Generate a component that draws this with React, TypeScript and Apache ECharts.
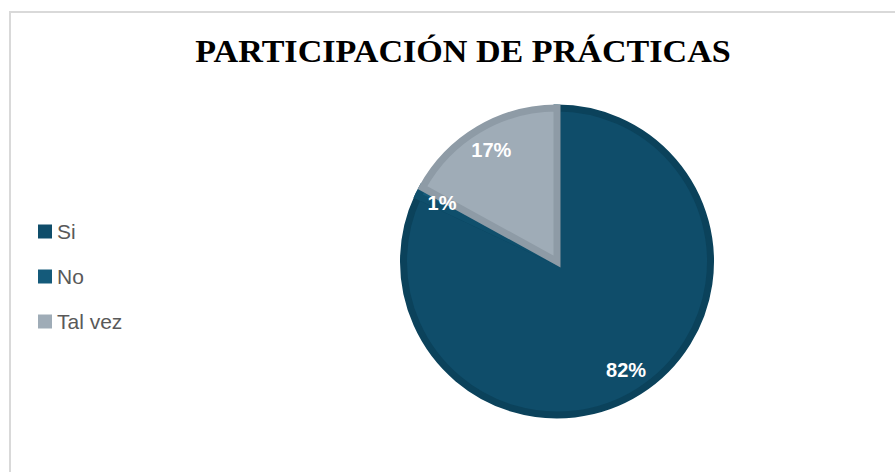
import React, { useEffect, useRef } from "react";
import * as echarts from "echarts";

const titleText = "PARTICIPACIÓN DE PRÁCTICAS";
const categories = ["Si", "No", "Tal vez"];
const percentages = [82, 1, 17];
const sliceColors = ["#0F4D6A", "#145A7A", "#9FACB7"];
const sliceBorders = ["#0B425B", "#0F4F6C", "#8E9BA6"];

export default function App() {
  const ref = useRef<HTMLDivElement>(null);
  useEffect(() => {
    if (!ref.current) return;
    const chart = echarts.init(ref.current, undefined, { renderer: "svg" });
    const data = categories.map((name, i) => ({
      name,
      value: percentages[i],
      itemStyle: { color: sliceColors[i], borderColor: sliceBorders[i] },
    }));
    const labelData = categories.map((name, i) => ({
      name,
      value: percentages[i],
    }));
    chart.setOption({
      animation: false,
      backgroundColor: "#ffffff",
      graphic: [
        {
          type: "rect",
          shape: { x: 10, y: 12, width: 920, height: 500 },
          style: { fill: "none", stroke: "#D9D9D9", lineWidth: 2 },
          silent: true,
          z: 0,
        },
        {
          type: "text",
          x: 463,
          y: 51,
          scaleX: 1.1,
          scaleY: 1.04,
          style: {
            text: titleText,
            font: 'bold 31px "Liberation Serif"',
            fill: "#000000",
            textAlign: "center",
            textVerticalAlign: "middle",
          },
          z: 10,
        },
      ],
      legend: {
        orient: "vertical",
        left: 38,
        top: 221,
        padding: 0,
        icon: "rect",
        itemWidth: 14,
        itemHeight: 14,
        itemGap: 24,
        data: categories,
        itemStyle: { borderWidth: 0 },
        textStyle: {
          fontFamily: "Liberation Sans",
          fontSize: 21,
          color: "#595959",
        },
      },
      series: [
        {
          type: "pie",
          center: [557, 261.5],
          radius: [0, 153.5],
          startAngle: 90,
          clockwise: true,
          data,
          itemStyle: { borderWidth: 7, borderJoin: "miter" },
          label: { show: false },
          labelLine: { show: false },
          emphasis: { disabled: true },
        },
        {
          type: "pie",
          center: [557, 261.5],
          radius: [0, 252],
          startAngle: 90,
          clockwise: true,
          silent: true,
          legendHoverLink: false,
          data: labelData,
          itemStyle: { color: "rgba(0,0,0,0)", borderWidth: 0 },
          label: {
            show: true,
            position: "inside",
            formatter: (p: any) => `${p.value}%`,
            color: "#ffffff",
            fontFamily: "Liberation Sans",
            fontWeight: "bold",
            fontSize: 20,
          },
          labelLine: { show: false },
          emphasis: { disabled: true },
          z: 5,
        },
      ],
    });
    return () => chart.dispose();
  }, []);
  return (
    <div
      ref={ref}
      style={{ position: "absolute", left: 0, top: 0, width: 895, height: 472 }}
    />
  );
}
